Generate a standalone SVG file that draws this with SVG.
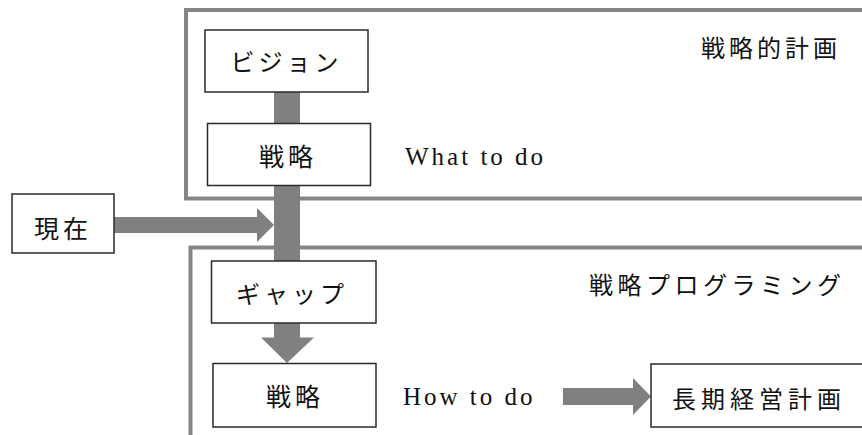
<svg xmlns="http://www.w3.org/2000/svg" width="862" height="435" viewBox="0 0 862 435">
<style>
.frame{fill:none;stroke:#858585;stroke-width:4}
.box{fill:#fff;stroke:#2a2a2a;stroke-width:1.5}
.conn{fill:#808080;stroke:none}
.jp{font-family:"Noto Sans CJK JP","Noto Sans CJK SC",sans-serif;font-size:24px;fill:#111;dominant-baseline:central}
.en{font-family:"Liberation Serif","DejaVu Serif",serif;font-size:25px;letter-spacing:3px;fill:#111}
</style>
<rect width="862" height="435" fill="#fff"/>
<g id="frame-strategic-plan">
<rect class="frame" x="186" y="10" width="700" height="188.5"/>
<text class="jp" x="701" y="46" style="letter-spacing:4px">戦略的計画</text>
<text class="en" x="405" y="165">What to do</text>
</g>
<g id="frame-strategic-programming">
<rect class="frame" x="190.5" y="247.5" width="700" height="220"/>
<text class="jp" x="589" y="283" style="letter-spacing:4.5px">戦略プログラミング</text>
<text class="en" x="403" y="405">How to do</text>
</g>
<g id="connectors">
<rect class="conn" x="274" y="92" width="26" height="169"/>
<polygon class="conn" points="114,217 257,217 257,208 274,225 257,242 257,233 114,233"/>
<polygon class="conn" points="274,323 300,323 300,337.5 314,337.5 287,363 261,337.5 274,337.5"/>
<polygon class="conn" points="563,388 633,388 633,378 651,396.5 633,415 633,405 563,405"/>
</g>
<g id="vision">
<rect class="box" x="205" y="30" width="163" height="62"/>
<text class="jp" x="286.5" y="60" text-anchor="middle" style="letter-spacing:4px">ビジョン</text>
</g>
<g id="strategy-1">
<rect class="box" x="207.5" y="123.5" width="163" height="62"/>
<text class="jp" x="288" y="155" text-anchor="middle" style="letter-spacing:4px;font-size:25px">戦略</text>
</g>
<g id="present">
<rect class="box" x="12" y="194" width="102" height="59"/>
<text class="jp" x="63" y="227" text-anchor="middle" style="letter-spacing:4px;font-size:25px">現在</text>
</g>
<g id="gap">
<rect class="box" x="211.5" y="261" width="164.5" height="62"/>
<text class="jp" x="292" y="292" text-anchor="middle" style="letter-spacing:4px">ギャップ</text>
</g>
<g id="strategy-2">
<rect class="box" x="213" y="363.5" width="163" height="63.5"/>
<text class="jp" x="295" y="395" text-anchor="middle" style="letter-spacing:4px;font-size:25px">戦略</text>
</g>
<g id="long-term-plan">
<rect class="box" x="651" y="364" width="230" height="63"/>
<text class="jp" x="672" y="397" style="letter-spacing:5px">長期経営計画</text>
</g>
</svg>
